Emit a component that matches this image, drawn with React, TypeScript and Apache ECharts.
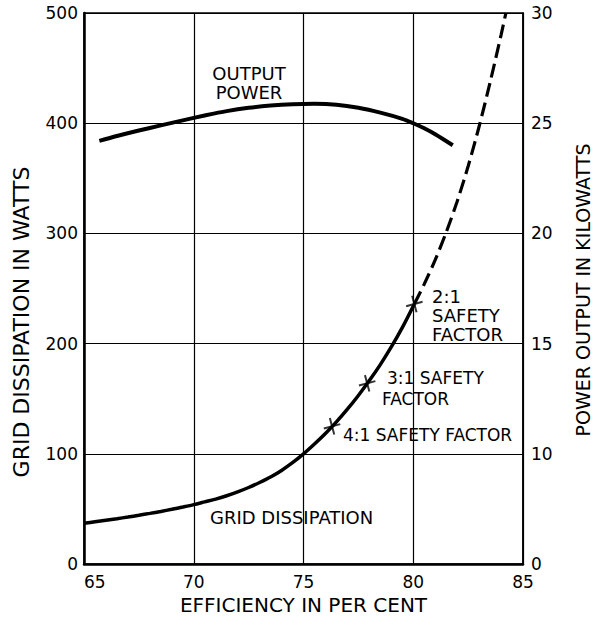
import React, { useEffect, useRef } from "react";
import * as echarts from "echarts";

// ---- data ----
const xTicks = [65, 70, 75, 80, 85];
const leftTicks = [0, 100, 200, 300, 400, 500];
const rightTickValues = [5, 10, 15, 20, 25, 30];
const rightTickLabels = ["0", "10", "15", "20", "25", "30"];

// grid dissipation (watts) vs efficiency (%)
const gridDissipationSolid: number[][] = [
  [65, 37], [65.5, 38.4], [66, 39.8], [66.5, 41.2], [67, 42.7], [67.5, 44.3], [68, 46],
  [68.5, 47.8], [69, 49.7], [69.5, 51.8], [70, 54], [70.5, 56.5], [71, 59], [71.5, 62],
  [72, 65.5], [72.5, 69.5], [73, 74], [73.5, 79], [74, 85], [74.5, 92], [75, 100],
  [75.5, 109], [76, 118.5], [76.5, 129], [77, 140.5], [77.5, 153], [78, 166.5],
  [78.5, 181], [79, 197], [79.5, 214.5], [80.05, 236],
];
const gridDissipationDashed: number[][] = [
  [80.05, 236], [80.5, 254], [81, 276], [81.5, 301], [82, 329], [82.5, 361],
  [83, 397], [83.5, 437], [84, 480], [84.22, 500],
];
// output power (kW) vs efficiency (%)
const outputPower: number[][] = [
  [65.7, 24.2], [66.5, 24.42], [67.5, 24.67], [68.5, 24.9], [69.5, 25.13], [70.5, 25.35],
  [71.5, 25.55], [72.5, 25.7], [73.5, 25.8], [74.5, 25.86], [75.5, 25.88], [76.5, 25.84],
  [77.5, 25.7], [78.5, 25.48], [79.5, 25.2], [80, 25.0], [80.5, 24.77], [81, 24.5], [81.8, 24.0],
];
// safety factor markers (4:1, 3:1, 2:1) on grid dissipation curve
const safetyFactors: number[][] = [[76.3, 125], [77.9, 164], [80.05, 236]];

const FONT = "DejaVu Sans";

export default function App() {
  const ref = useRef<HTMLDivElement>(null);
  useEffect(() => {
    if (!ref.current) return;
    const chart = echarts.init(ref.current, null, { renderer: "svg" });
    const lineBlack = "#000";
    chart.setOption({
      animation: false,
      backgroundColor: "#fff",
      grid: {
        left: 84, right: 77, top: 13, bottom: 48,
        show: true, borderColor: lineBlack, borderWidth: 1.5,
      },
      xAxis: {
        type: "value",
        min: xTicks[0], max: xTicks[xTicks.length - 1], interval: 5,
        name: "EFFICIENCY IN PER CENT",
        nameLocation: "middle", nameGap: 28,
        nameTextStyle: { fontFamily: FONT, fontSize: 20, color: "#000" },
        axisLine: { show: true, lineStyle: { color: lineBlack, width: 2.5 } },
        axisTick: { show: false },
        axisLabel: { fontFamily: FONT, fontSize: 17, color: "#000", margin: 9, alignMinLabel: "left" },
        splitLine: { show: true, lineStyle: { color: lineBlack, width: 1.2 } },
      },
      yAxis: [
        {
          type: "value", position: "left",
          min: leftTicks[0], max: leftTicks[leftTicks.length - 1], interval: 100,
          axisLine: { show: true, lineStyle: { color: lineBlack, width: 2.5 } },
          axisTick: { show: false },
          axisLabel: { fontFamily: FONT, fontSize: 17, color: "#000", margin: 6 },
          splitLine: { show: true, lineStyle: { color: lineBlack, width: 1.2 } },
        },
        {
          type: "value", position: "right",
          min: rightTickValues[0], max: rightTickValues[rightTickValues.length - 1], interval: 5,
          axisLine: { show: true, lineStyle: { color: lineBlack, width: 1.5 } },
          axisTick: { show: false },
          axisLabel: {
            fontFamily: FONT, fontSize: 17, color: "#000", margin: 8,
            formatter: (v: number) => {
              const i = rightTickValues.indexOf(v);
              return i >= 0 ? rightTickLabels[i] : "";
            },
          },
          splitLine: { show: false },
        },
      ],
      series: [
        {
          type: "line", yAxisIndex: 0, data: gridDissipationSolid, smooth: 0.3,
          showSymbol: false, lineStyle: { color: lineBlack, width: 3.5 },
        },
        {
          type: "line", yAxisIndex: 0, data: gridDissipationDashed, smooth: 0.3,
          showSymbol: false, lineStyle: { color: lineBlack, width: 3.2, type: [14, 6] },
        },
        {
          type: "line", yAxisIndex: 1, data: outputPower, smooth: 0.3,
          showSymbol: false, lineStyle: { color: lineBlack, width: 4 },
        },
        {
          type: "scatter", yAxisIndex: 0, data: safetyFactors,
          symbol: "path://M0,5.3H12V6.7H0Z M5.3,0H6.7V12H5.3Z",
          symbolSize: 17, symbolRotate: 15,
          itemStyle: { color: lineBlack },
        },
      ],
      graphic: [
        {
          type: "text", x: 21.5, y: 322, rotation: Math.PI / 2,
          style: { text: "GRID DISSIPATION IN WATTS", fontFamily: FONT, fontSize: 22, fill: "#000", textAlign: "center", textVerticalAlign: "middle" },
        },
        {
          type: "text", x: 582.5, y: 290, rotation: Math.PI / 2,
          style: { text: "POWER OUTPUT IN KILOWATTS", fontFamily: FONT, fontSize: 19, fill: "#000", textAlign: "center", textVerticalAlign: "middle" },
        },
        {
          type: "text", x: 249, y: 64,
          style: { text: "OUTPUT\nPOWER", fontFamily: FONT, fontSize: 18, lineHeight: 19, fill: "#000", textAlign: "center", textVerticalAlign: "top" },
        },
        {
          type: "text", x: 432, y: 287,
          style: { text: "2:1\nSAFETY\nFACTOR", fontFamily: FONT, fontSize: 18, lineHeight: 19, fill: "#000", textAlign: "left", textVerticalAlign: "top" },
        },
        {
          type: "text", x: 387, y: 378,
          style: { text: "3:1 SAFETY", fontFamily: FONT, fontSize: 17, fill: "#000", textAlign: "left", textVerticalAlign: "middle" },
        },
        {
          type: "text", x: 382, y: 399,
          style: { text: "FACTOR", fontFamily: FONT, fontSize: 17, fill: "#000", textAlign: "left", textVerticalAlign: "middle" },
        },
        {
          type: "text", x: 343, y: 435,
          style: { text: "4:1 SAFETY FACTOR", fontFamily: FONT, fontSize: 17, fill: "#000", textAlign: "left", textVerticalAlign: "middle" },
        },
        {
          type: "text", x: 210, y: 517,
          style: { text: "GRID DISSIPATION", fontFamily: FONT, fontSize: 18, fill: "#000", textAlign: "left", textVerticalAlign: "middle" },
        },
      ],
    });
    return () => chart.dispose();
  }, []);
  return <div ref={ref} style={{ position: "absolute", left: 0, top: 0, width: 600, height: 620 }} />;
}
